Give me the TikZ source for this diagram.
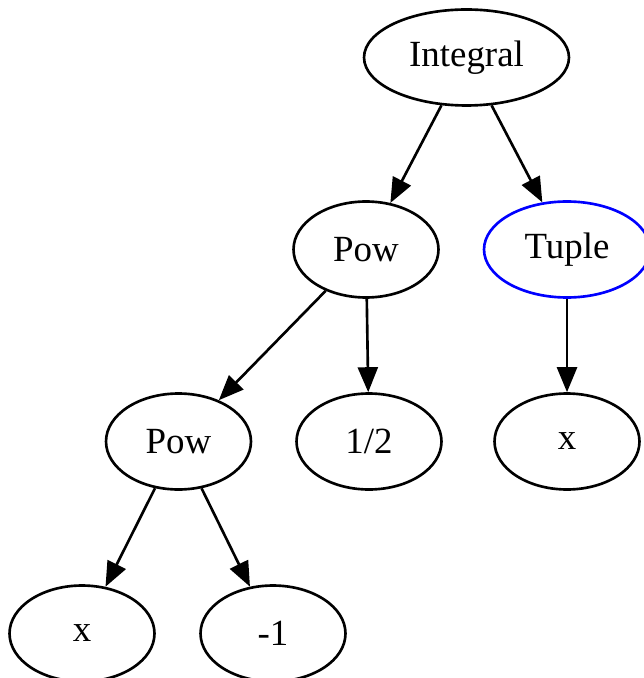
\documentclass[tikz,border=0pt]{standalone}
\usepackage{fontspec}
\setmainfont{Liberation Serif}
\usetikzlibrary{arrows.meta,shapes.geometric}

\begin{document}
\begin{tikzpicture}[x=0.02cm, y=-0.02cm, line width=1.5pt,
    >={Triangle[length=0.5cm,width=0.4cm]},
    treenode/.style={ellipse, draw, inner sep=0pt,
      minimum width=2.9cm, minimum height=1.92cm,
      font=\fontsize{21}{25}\selectfont}]
  \useasboundingbox (0,0) rectangle (644,678);

  \node[treenode, minimum width=4.1cm] (integral) at (466.5,57.5) {Integral};
  \node[treenode] (pow) at (366,249.5) {Pow};
  \node[treenode, draw=blue, minimum width=3.32cm] (tuple) at (567,249.5) {Tuple};
  \node[treenode] (powinner) at (178.5,441.5) {Pow};
  \node[treenode] (half) at (369,441.5) {1/2};
  \node[treenode] (tuplex) at (567,441.5) {x};
  \node[treenode] (powx) at (82,633.5) {x};
  \node[treenode] (minusone) at (273,633.5) {-1};

  \draw[->] (integral) -- (pow);
  \draw[->] (integral) -- (tuple);
  \draw[->] (pow) -- (powinner);
  \draw[->] (pow) -- (half);
  \draw[->] (tuple) -- (tuplex);
  \draw[->] (powinner) -- (powx);
  \draw[->] (powinner) -- (minusone);
\end{tikzpicture}
\end{document}
